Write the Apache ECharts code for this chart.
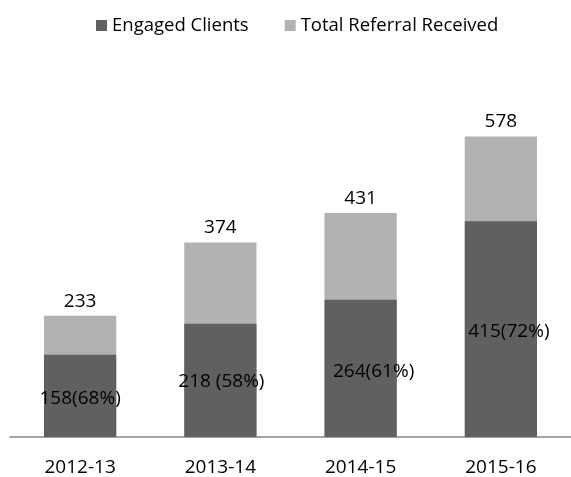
<!DOCTYPE html>
<html>
<head>
<meta charset="utf-8">
<script src="https://cdn.jsdelivr.net/npm/echarts@6/dist/echarts.min.js"></script>
<style>
  html, body { margin: 0; padding: 0; background: #fff; }
  #chart { width: 571px; height: 477px; }
</style>
</head>
<body>
<div id="chart"></div>
<script>
const years = ['2012-13', '2013-14', '2014-15', '2015-16']
const engaged = [158, 218, 264, 415]
const totalReferrals = [233, 374, 431, 578]
const engagedLabels = ['158(68%)', '218 (58%)', '264(61%)', '415(72%)']

const FONT = '"Open Sans", "Liberation Sans", sans-serif'
const DARK = '#606060'
const LIGHT = '#b2b2b2'

// nudges so the inner labels sit where the original placed them
const innerNudge = [[0, 3], [1, 1], [13, 3], [8, 2]]

const chart = echarts.init(document.getElementById('chart'))

chart.setOption({
  animation: false,
  textStyle: { fontFamily: FONT },
  legend: {
    data: ['Engaged Clients', 'Total Referral Received'],
    left: 91,
    top: 11,
    itemWidth: 11,
    itemHeight: 11,
    itemGap: 36,
    icon: 'rect',
    textStyle: { fontFamily: FONT, fontSize: 18.5, color: '#000' }
  },
  grid: { left: 10, right: -6, top: 73, bottom: 36, containLabel: false },
  xAxis: {
    type: 'category',
    data: years,
    axisLine: { lineStyle: { color: '#868686', width: 1.5 } },
    axisTick: { show: false },
    axisLabel: { color: '#000', fontSize: 19, fontFamily: FONT, margin: 21 }
  },
  yAxis: {
    type: 'value',
    min: 0,
    max: 700,
    show: false,
    splitLine: { show: false }
  },
  series: [
    {
      name: 'Total Referral Received',
      type: 'bar',
      data: totalReferrals,
      barWidth: '51.5%',
      itemStyle: { color: LIGHT },
      label: {
        show: true,
        position: 'top',
        distance: 5,
        color: '#000',
        fontSize: 19,
        fontFamily: FONT
      }
    },
    {
      name: 'Engaged Clients',
      type: 'bar',
      barGap: '-100%',
      barWidth: '51.5%',
      itemStyle: { color: DARK },
      data: engaged.map((v, i) => ({
        value: v,
        label: { offset: innerNudge[i] }
      })),
      label: {
        show: true,
        position: 'inside',
        color: '#000',
        fontSize: 19,
        fontFamily: FONT,
        formatter: p => engagedLabels[p.dataIndex]
      }
    }
  ]
})

window.addEventListener('resize', () => chart.resize())
</script>
</body>
</html>
